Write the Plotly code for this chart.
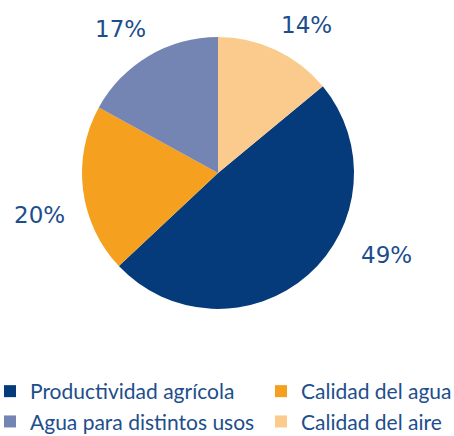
import math
import plotly.graph_objects as go

labels = ["Productividad agrícola", "Calidad del agua", "Agua para distintos usos", "Calidad del aire"]
values = [49, 20, 17, 14]
colors = ["#053b7b", "#f5a01e", "#7585b3", "#facb8c"]
legend_col = ["legend", "legend2", "legend", "legend2"]  # two-column legend

# label placement tweaks (angle offset in degrees, radius in px)
label_dang = [-22.6, -6.1, -3.4, 5.7]
label_rad = [188, 183, 174, 173]

W, H = 454, 436
MB = 75                      # bottom margin holding the legend
HP = H - MB                  # plot-area height
cx, cy, R = 218, 173, 136    # pie center / radius in px
dom_x = [(cx - R) / W, (cx + R) / W]
dom_y = [(HP - (cy + R)) / HP, (HP - (cy - R)) / HP]

total = sum(values)
start = 360 * values[-1] / total  # first slice starts after "Calidad del aire"

fig = go.Figure(go.Pie(
    labels=labels, values=values, sort=False, direction="clockwise",
    rotation=start, marker=dict(colors=colors, line=dict(width=0)),
    textinfo="none", hoverinfo="label+percent",
    domain=dict(x=dom_x, y=dom_y), showlegend=False,
))

# legend entries (two columns)
for lab, col, lg in zip(labels, colors, legend_col):
    fig.add_trace(go.Scatter(
        x=[None], y=[None], mode="markers", name=lab, legend=lg,
        marker=dict(symbol="square", size=12, color=col, line=dict(width=0)),
        hoverinfo="skip",
    ))

acc = start
annots = []
for v, da, lr in zip(values, label_dang, label_rad):
    mid = acc + 360 * v / total / 2 + da
    acc += 360 * v / total
    a = math.radians(mid)
    px = cx + lr * math.sin(a)
    py = cy - lr * math.cos(a)
    annots.append(dict(
        x=px / W, y=(HP - py) / HP, xref="paper", yref="paper",
        text=f"{round(100 * v / total)}%", showarrow=False,
        font=dict(size=23, color="#1d4e8c", family="DejaVu Sans"),
        xanchor="center", yanchor="middle",
    ))

legend_font = dict(size=21, color="#1d4e8c", family="Lato")
fig.update_layout(
    width=W, height=H, margin=dict(l=0, r=0, t=0, b=MB, autoexpand=False),
    paper_bgcolor="white", plot_bgcolor="white",
    xaxis=dict(visible=False), yaxis=dict(visible=False),
    annotations=annots,
    showlegend=True,
    legend=dict(
        orientation="v", x=-10 / W, xanchor="left", y=-10 / HP, yanchor="top",
        font=legend_font, tracegroupgap=0, itemclick=False, itemdoubleclick=False,
    ),
    legend2=dict(
        orientation="v", x=261 / W, xanchor="left", y=-10 / HP, yanchor="top",
        font=legend_font, tracegroupgap=0, itemclick=False, itemdoubleclick=False,
    ),
)
fig.write_html("out.html", config=dict(displayModeBar=False),
               post_script="document.body.style.margin='0px';")
